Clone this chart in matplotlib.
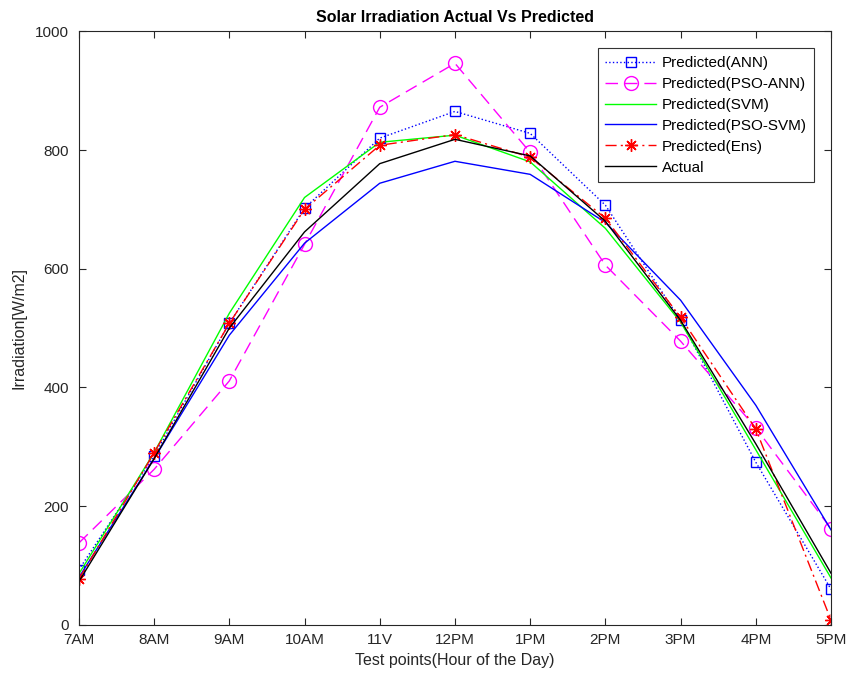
import numpy as np
import matplotlib
matplotlib.use("Agg")
import matplotlib.pyplot as plt

plt.rcParams['font.family'] = ['Liberation Sans', 'DejaVu Sans']

# hours of the day (tick labels as in the original)
hours = ['7AM', '8AM', '9AM', '10AM', '11V', '12PM', '1PM', '2PM', '3PM', '4PM', '5PM']

# irradiation values
ann = [93, 285, 508, 702, 820, 865, 828, 707, 513, 274, 60]
pso_ann = [138, 262, 411, 641, 872, 946, 796, 606, 478, 332, 162]
svm = [86, 290, 525, 720, 813, 825, 780, 668, 510, 295, 79]
pso_svm = [80, 280, 488, 643, 744, 781, 759, 678, 547, 370, 160]
ens = [77, 290, 508, 700, 808, 826, 788, 685, 518, 330, 8]
actual = [73, 280, 500, 662, 777, 818, 790, 680, 513, 305, 87]

x = np.arange(len(hours))
txt = '#262626'

fig = plt.figure(figsize=(8.48, 6.8), dpi=100)
ax = fig.add_axes([0.093, 0.081, 0.887, 0.873])

ax.plot(x, ann, color='#0000ff', linestyle=':', linewidth=1, marker='s',
        markersize=7, markerfacecolor='none', markeredgewidth=1, label='Predicted(ANN)')
ax.plot(x, pso_ann, color='#ff00ff', linestyle=(0, (9, 5)), linewidth=1, marker='o',
        markersize=10, markerfacecolor='none', markeredgewidth=1, label='Predicted(PSO-ANN)')
ax.plot(x, svm, color='#00ff00', linewidth=1, label='Predicted(SVM)')
ax.plot(x, pso_svm, color='#0000ff', linewidth=1, label='Predicted(PSO-SVM)')
ax.plot(x, ens, color='#ff0000', linestyle=(0, (8, 3, 1.5, 3)), linewidth=1, marker=(8, 2, 0),
        markersize=9, markeredgewidth=1, label='Predicted(Ens)')
ax.plot(x, actual, color='black', linewidth=1, label='Actual')

ax.set_xlim(0, 10)
ax.set_ylim(0, 1000)
ax.set_xticks(x)
ax.set_xticklabels(hours)
ax.set_yticks(np.arange(0, 1001, 200))
ax.tick_params(direction='in', top=True, right=True, labelsize=11, length=5, width=0.8,
               colors=txt)
ax.tick_params(axis='x', pad=6)
ax.tick_params(axis='y', pad=7)
for s in ax.spines.values():
    s.set_linewidth(0.8)
    s.set_color(txt)

ax.set_title('Solar Irradiation Actual Vs Predicted', fontsize=11.5, fontweight='bold', pad=7)
ax.set_xlabel('Test points(Hour of the Day)', fontsize=11.5, color=txt, labelpad=4)
ax.set_ylabel('Irradiation[W/m2]', fontsize=11.5, color=txt, labelpad=6)

leg = ax.legend(loc='upper right', fontsize=11, fancybox=False, edgecolor='#333333',
                framealpha=1, handlelength=3.3, handletextpad=0.4, borderpad=0.5,
                labelspacing=0.45, borderaxespad=0, bbox_to_anchor=(0.978, 0.971))
leg.get_frame().set_linewidth(0.8)

fig.savefig('out.png', dpi=100)
